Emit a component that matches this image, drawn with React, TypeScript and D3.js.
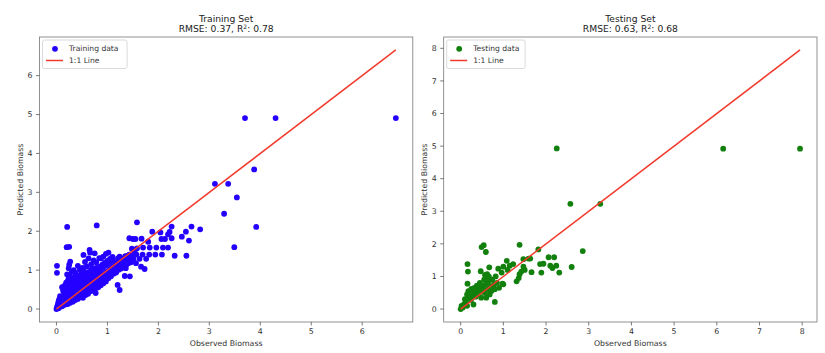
import React from "react";
import * as d3 from "d3";

// observed vs predicted biomass
const trainPoints: [number, number][] = [
  [0, 0], [0.01, 0.04], [0.02, 0.08], [0.03, 0.13], [0.04, 0.02], [0.01, 0.93], [0.01, 1.11], [0.04, 0.19],
  [0.06, 0.05], [0.07, 0.11], [0.08, 0.17], [0.05, 0.24], [0.09, 0.27], [0.07, 0.33], [0.1, 0.13],
  [0.11, 0.07], [0.12, 0.18], [0.14, 0.24], [0.12, 0.31], [0.15, 0.39], [0.13, 0.47], [0.11, 0.56],
  [0.16, 0.11], [0.18, 0.19], [0.15, 0.29], [0.19, 0.36], [0.17, 0.44], [0.2, 0.52], [0.16, 0.6], [0.19, 0.68],
  [0.22, 0.13], [0.23, 0.21], [0.2, 0.31], [0.24, 0.41], [0.21, 0.49], [0.25, 0.61], [0.22, 0.72], [0.24, 0.79],
  [0.21, 0.89], [0.24, 1.05], [0.25, 1.14], [0.27, 1.22], [0.2, 1.59], [0.25, 1.6], [0.21, 2.11],
  [0.27, 0.16], [0.28, 0.26], [0.3, 0.34], [0.26, 0.46], [0.3, 0.57], [0.27, 0.66], [0.29, 0.74], [0.26, 0.87], [0.3, 0.96],
  [0.32, 0.19], [0.33, 0.29], [0.35, 0.41], [0.31, 0.51], [0.35, 0.59], [0.33, 0.71], [0.34, 0.81], [0.34, 1.0],
  [0.37, 0.23], [0.38, 0.33], [0.4, 0.43], [0.36, 0.53], [0.4, 0.61], [0.38, 0.73], [0.39, 0.83], [0.37, 0.93],
  [0.42, 0.26], [0.43, 0.36], [0.45, 0.44], [0.41, 0.56], [0.45, 0.66], [0.43, 0.76], [0.44, 0.86], [0.42, 1.11],
  [0.47, 0.31], [0.48, 0.41], [0.5, 0.49], [0.46, 0.61], [0.5, 0.71], [0.48, 0.79], [0.49, 0.91], [0.46, 1.01],
  [0.52, 0.29], [0.53, 0.43], [0.55, 0.54], [0.51, 0.66], [0.55, 0.76], [0.53, 0.84], [0.54, 0.96], [0.51, 1.06], [0.53, 1.39],
  [0.57, 0.36], [0.58, 0.47], [0.6, 0.61], [0.56, 0.69], [0.6, 0.81], [0.58, 0.91], [0.59, 1.09], [0.56, 1.21],
  [0.62, 0.39], [0.63, 0.51], [0.65, 0.63], [0.61, 0.73], [0.65, 0.83], [0.63, 0.94], [0.63, 1.3], [0.65, 1.52],
  [0.67, 0.46], [0.68, 0.57], [0.7, 0.71], [0.66, 0.79], [0.7, 0.91], [0.68, 1.01], [0.68, 1.15], [0.66, 1.45],
  [0.72, 0.49], [0.73, 0.61], [0.75, 0.73], [0.71, 0.84], [0.75, 0.96], [0.73, 1.04], [0.73, 1.25], [0.75, 1.43],
  [0.77, 0.41], [0.78, 0.54], [0.8, 0.69], [0.76, 0.81], [0.8, 0.91], [0.78, 1.06], [0.78, 1.2], [0.79, 2.15],
  [0.82, 0.56], [0.83, 0.71], [0.85, 0.84], [0.81, 0.99], [0.85, 1.09], [0.84, 1.31],
  [0.87, 0.61], [0.88, 0.74], [0.9, 0.89], [0.86, 1.01], [0.9, 1.14], [0.87, 1.3],
  [0.92, 0.66], [0.93, 0.79], [0.95, 0.93], [0.91, 1.06], [0.95, 1.19], [0.92, 1.35],
  [0.97, 0.71], [0.98, 0.86], [1.0, 0.97], [0.96, 1.11], [1.0, 1.24], [0.97, 1.42],
  [1.02, 0.79], [1.03, 0.89], [1.05, 1.03], [1.01, 1.16], [1.05, 1.29], [1.02, 1.45],
  [1.07, 0.84], [1.08, 0.99], [1.1, 1.09], [1.06, 1.23], [1.1, 1.34],
  [1.12, 0.91], [1.13, 1.01], [1.15, 1.16], [1.11, 1.27],
  [1.17, 0.94], [1.18, 1.09], [1.2, 1.19], [1.21, 1.31], [1.2, 0.62],
  [1.22, 1.01], [1.23, 1.11], [1.25, 1.26], [1.24, 1.35], [1.24, 0.49],
  [1.27, 1.04], [1.28, 1.19], [1.3, 1.29], [1.34, 0.85],
  [1.32, 1.11], [1.33, 1.21], [1.35, 1.36],
  [1.37, 1.13], [1.38, 1.24], [1.4, 1.37], [1.36, 1.05],
  [1.41, 1.18], [1.42, 1.3], [1.43, 1.4], [1.43, 1.82], [1.44, 0.84],
  [1.46, 1.2], [1.47, 1.35], [1.48, 1.55], [1.5, 1.8],
  [1.51, 1.29], [1.52, 1.4], [1.54, 1.52], [1.55, 1.8],
  [1.56, 1.18], [1.57, 1.4], [1.58, 1.56], [1.58, 2.23],
  [1.63, 1.29], [1.67, 1.81], [1.69, 1.4], [1.7, 1.58], [1.66, 1.09], [1.73, 1.03],
  [1.76, 1.29], [1.8, 1.73], [1.82, 1.4], [1.83, 1.58],
  [1.88, 1.99], [1.94, 1.4], [1.96, 1.58],
  [2.04, 1.97], [2.07, 1.4], [2.06, 1.8], [2.09, 1.58],
  [2.13, 1.8], [2.19, 1.58], [2.19, 1.92],
  [2.22, 1.98], [2.26, 1.82], [2.26, 2.12],
  [2.32, 1.37], [2.46, 1.86], [2.54, 1.99], [2.55, 1.37], [2.6, 1.76], [2.65, 2.12], [2.82, 2.05],
  [3.11, 3.22], [3.37, 3.22], [3.29, 2.45], [3.54, 2.87], [3.88, 3.59], [3.92, 2.11], [3.49, 1.59],
  [3.7, 4.91], [4.3, 4.91], [6.66, 4.91],
];

const testPoints: [number, number][] = [
  [0, 0], [0.02, 0.1], [0.05, 0.05], [0.08, 0.15], [0.1, 0.3], [0.12, 0.22], [0.15, 0.1], [0.15, 0.45],
  [0.16, 0.78], [0.16, 1.38], [0.17, 1.15], [0.18, 0.55], [0.2, 0.35], [0.22, 0.5], [0.24, 0.28], [0.25, 0.62],
  [0.28, 0.42], [0.3, 0.14], [0.3, 0.55], [0.32, 0.65], [0.35, 0.38], [0.36, 0.5], [0.38, 0.72], [0.4, 0.6],
  [0.42, 0.45], [0.44, 0.68], [0.45, 0.8], [0.46, 0.55], [0.47, 1.16], [0.48, 0.35], [0.49, 1.9], [0.5, 0.72],
  [0.52, 0.62], [0.54, 1.96], [0.55, 0.9], [0.56, 0.5], [0.57, 1.05], [0.58, 0.75], [0.59, 1.75], [0.6, 0.35],
  [0.6, 0.95], [0.62, 1.07], [0.63, 0.6], [0.65, 0.85], [0.66, 1.0], [0.67, 1.28], [0.68, 0.45], [0.7, 0.7],
  [0.72, 0.55], [0.74, 0.9], [0.76, 0.6], [0.78, 0.75], [0.8, 0.22], [0.8, 0.61], [0.82, 1.0], [0.85, 0.8],
  [0.88, 1.24], [0.9, 0.65], [0.96, 1.12], [0.98, 0.78], [1.0, 0.76], [1.0, 1.3], [1.08, 1.48], [1.15, 1.33],
  [1.1, 1.2], [1.23, 1.38], [1.31, 0.85], [1.36, 0.95], [1.38, 1.07], [1.38, 1.97], [1.42, 1.15], [1.47, 1.3],
  [1.47, 1.53], [1.5, 1.2], [1.59, 1.55], [1.63, 1.55], [1.66, 1.13], [1.82, 1.83], [1.86, 1.38], [1.89, 1.12],
  [1.94, 1.39], [2.06, 1.59], [2.1, 1.33], [2.15, 1.26], [2.19, 1.59], [2.24, 1.33], [2.31, 1.12], [2.6, 1.29],
  [2.86, 1.78], [2.25, 4.93], [2.57, 3.23], [3.27, 3.23], [6.15, 4.92], [7.95, 4.92],
];

const panels = [
  { title: "Training Set", rmse: "0.37", r2: "0.78", label: "Training data", color: "#2400ff", points: trainPoints, left: 39.5 },
  { title: "Testing Set", rmse: "0.63", r2: "0.68", label: "Testing data", color: "#12800c", points: testPoints, left: 443.7 },
];

const W = 825;
const H = 353;
const plotW = 373.3;
const top = 37;
const bottom = 322;
const font = "DejaVu Sans, sans-serif";
const lineColor = "#f23a2c";

function Panel({ p }: { p: typeof panels[0] }) {
  const hi = d3.max(p.points, d => Math.max(d[0], d[1]))!;
  const pad = hi * 0.05;
  const x = d3.scaleLinear().domain([-pad, hi + pad]).range([p.left, p.left + plotW]);
  const y = d3.scaleLinear().domain([-pad, hi + pad]).range([bottom, top]);
  const ticks = d3.range(0, Math.floor(hi + pad) + 1);
  const cx = p.left + plotW / 2;
  const lg = { x: p.left + 3, y: top + 3 };

  return (
    <g fontFamily={font}>
      <text x={cx} y={21.7} textAnchor="middle" fontSize={9.2} fill="#222">{p.title}</text>
      <text x={cx} y={32.3} textAnchor="middle" fontSize={9.2} fill="#222">
        RMSE: {p.rmse}, R<tspan dy={-3.5} fontSize={6}>2</tspan><tspan dy={3.5}>: {p.r2}</tspan>
      </text>

      {p.points.map((d, i) => (
        <circle key={i} cx={x(d[0])} cy={y(d[1])} r={2.9} fill={p.color} />
      ))}
      <line x1={x(0)} y1={y(0)} x2={x(hi)} y2={y(hi)} stroke={lineColor} strokeWidth={1.5} />

      <rect x={p.left} y={top} width={plotW} height={bottom - top} fill="none" stroke="#777" strokeWidth={0.8} />

      {ticks.map(t => (
        <g key={"x" + t}>
          <line x1={x(t)} x2={x(t)} y1={bottom} y2={bottom + 3.5} stroke="#444" strokeWidth={0.7} />
          <text x={x(t)} y={334} textAnchor="middle" fontSize={7.8} fill="#333">{t}</text>
        </g>
      ))}
      {ticks.map(t => (
        <g key={"y" + t}>
          <line x1={p.left - 3.5} x2={p.left} y1={y(t)} y2={y(t)} stroke="#444" strokeWidth={0.7} />
          <text x={p.left - 7} y={y(t)} dy="0.35em" textAnchor="end" fontSize={7.8} fill="#333">{t}</text>
        </g>
      ))}

      <text x={cx} y={346} textAnchor="middle" fontSize={7.8} fill="#333">Observed Biomass</text>
      <text transform={`translate(${p.left - 16.5},${(top + bottom) / 2}) rotate(-90)`} textAnchor="middle" fontSize={7.8} fill="#333">
        Predicted Biomass
      </text>

      <rect x={lg.x} y={lg.y} width={p.label.length * 6.2 + 4} height={28.5} rx={2} fill="white" fillOpacity={0.8} stroke="#d0d0d0" strokeWidth={0.8} />
      <circle cx={lg.x + 12.5} cy={lg.y + 8.8} r={2.9} fill={p.color} />
      <text x={lg.x + 26.5} y={lg.y + 8.8} dy="0.35em" fontSize={7.6} fill="#333">{p.label}</text>
      <line x1={lg.x + 3.5} x2={lg.x + 20.5} y1={lg.y + 20.5} y2={lg.y + 20.5} stroke={lineColor} strokeWidth={1.5} />
      <text x={lg.x + 26.5} y={lg.y + 20.5} dy="0.35em" fontSize={7.6} fill="#333">1:1 Line</text>
    </g>
  );
}

export default function App() {
  return (
    <svg width={W} height={H} style={{ position: "absolute", left: 0, top: 0, background: "white" }}>
      {panels.map(p => <Panel key={p.title} p={p} />)}
    </svg>
  );
}
